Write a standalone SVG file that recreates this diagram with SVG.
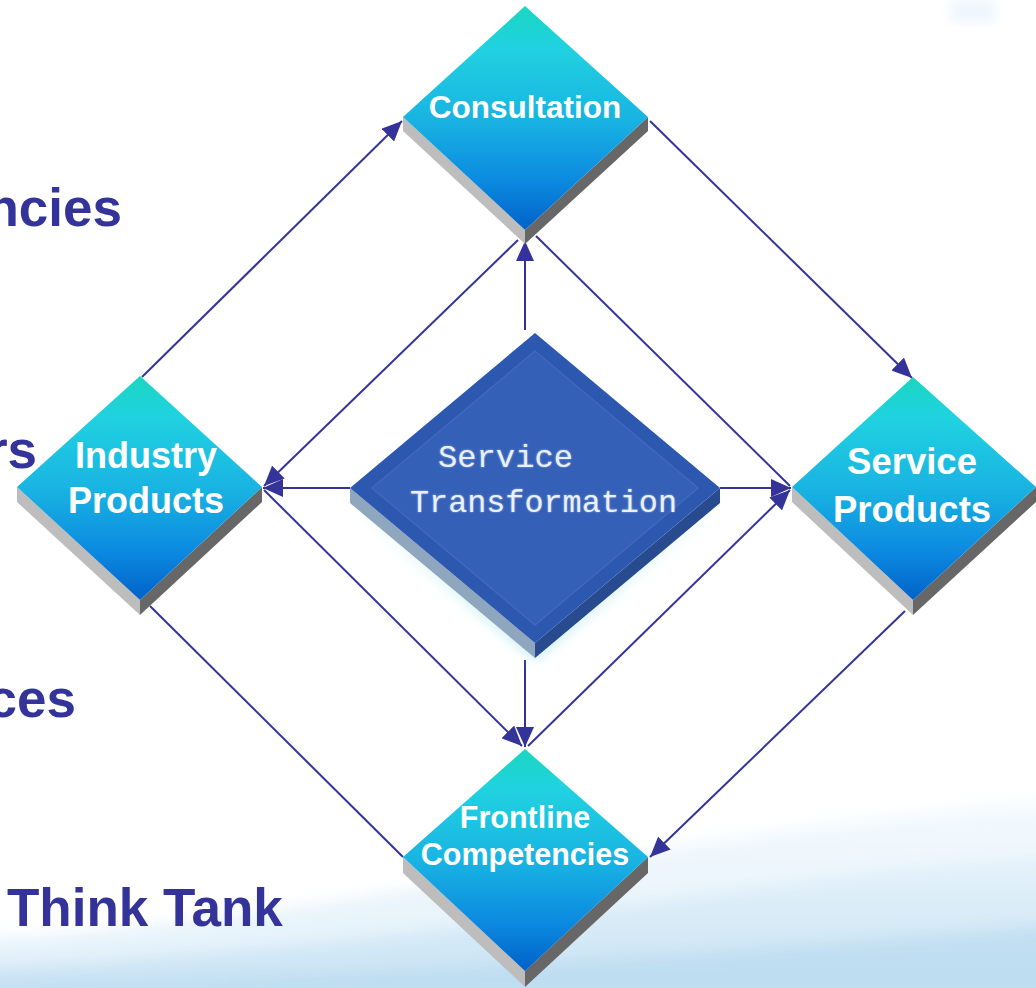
<svg xmlns="http://www.w3.org/2000/svg" width="1036" height="988" viewBox="0 0 1036 988">
  <defs>
    <linearGradient id="face" x1="0" y1="0" x2="0" y2="1">
      <stop offset="0" stop-color="#1ad6c0"/>
      <stop offset="0.18" stop-color="#20d2e0"/>
      <stop offset="0.5" stop-color="#19b4e2"/>
      <stop offset="0.78" stop-color="#0c8ae0"/>
      <stop offset="1" stop-color="#0062c8"/>
    </linearGradient>
    <linearGradient id="wave1" x1="0" y1="0" x2="0" y2="1">
      <stop offset="0" stop-color="#f2f9fe"/>
      <stop offset="1" stop-color="#dcedf8"/>
    </linearGradient>
    <linearGradient id="wave2" x1="0" y1="0" x2="0" y2="1">
      <stop offset="0" stop-color="#dfeff9"/>
      <stop offset="1" stop-color="#b5d9ef"/>
    </linearGradient>
    <filter id="glow" x="-20%" y="-20%" width="140%" height="140%">
      <feGaussianBlur stdDeviation="6"/>
    </filter>
    <filter id="blur" x="-10%" y="-50%" width="120%" height="200%">
      <feGaussianBlur stdDeviation="8"/>
    </filter>
    <filter id="soft" x="-20%" y="-20%" width="140%" height="140%">
      <feGaussianBlur stdDeviation="1.2"/>
    </filter>
    <marker id="arrow" markerUnits="userSpaceOnUse" markerWidth="22" markerHeight="18" refX="20" refY="9" orient="auto">
      <path d="M0,0 L20,9 L0,18 Z" fill="#333399"/>
    </marker>
    <style>
      .conn { stroke: #333399; stroke-width: 2; fill: none; }
      .arr { marker-end: url(#arrow); }
      .top { fill: url(#face); }
      .lside { fill: #bdbdbd; }
      .rside { fill: #676767; }
      .lbl { font-family: "Liberation Sans", Arial, sans-serif; font-weight: bold; fill: #ffffff; text-anchor: middle; }
      .side { font-family: "Liberation Sans", Arial, sans-serif; font-weight: bold; fill: #333399; font-size: 53px; }
      .mono { font-family: "Liberation Mono", "DejaVu Sans Mono", monospace; fill: #e9f1ff; font-size: 32px; }
    </style>
  </defs>

  <!-- background -->
  <rect x="0" y="0" width="1036" height="988" fill="#ffffff"/>
  <rect x="950" y="0" width="46" height="22" rx="4" fill="#eef6fd" filter="url(#glow)"/>
  <g id="background-wave" filter="url(#blur)">
    <path d="M-20,1000 L-20,940 C200,930 450,880 650,850 C800,828 920,810 1056,800 L1056,1000 Z" fill="url(#wave1)" opacity="0.85"/>
    <path d="M-20,1000 L-20,968 C250,955 500,925 700,895 C850,875 950,862 1056,856 L1056,1000 Z" fill="url(#wave2)" opacity="0.6"/>
    <path d="M-20,1000 L-20,985 C350,978 700,955 1056,925 L1056,1000 Z" fill="#b2d7ef" opacity="0.55"/>
  </g>

  <!-- side texts -->
  <g id="side-texts">
    <text class="side" x="122" y="226" text-anchor="end">ncies</text>
    <text class="side" x="37" y="468" text-anchor="end">rs</text>
    <text class="side" x="76" y="717" text-anchor="end">ces</text>
    <text class="side" x="7" y="926">Think Tank</text>
  </g>

  <!-- connectors -->
  <g id="connectors">
    <line class="conn arr" x1="142" y1="377" x2="402" y2="121"/>
    <line class="conn arr" x1="650" y1="121" x2="912" y2="378"/>
    <line class="conn arr" x1="905" y1="611" x2="650" y2="857"/>
    <line class="conn" x1="150" y1="606" x2="403" y2="857"/>
    <line class="conn arr" x1="525" y1="330" x2="525" y2="241"/>
    <line class="conn arr" x1="350" y1="488" x2="263" y2="488"/>
    <line class="conn arr" x1="720" y1="488" x2="791" y2="488"/>
    <line class="conn arr" x1="525" y1="660" x2="525" y2="747"/>
    <line class="conn arr" x1="518" y1="240" x2="264" y2="486"/>
    <line class="conn arr" x1="264" y1="490" x2="522" y2="746"/>
    <line class="conn arr" x1="528" y1="746" x2="790" y2="490"/>
    <line class="conn" x1="790" y1="486" x2="536" y2="236"/>
  </g>

  <!-- central node -->
  <g id="service-transformation">
    <polygon points="350,505 535,660 720,505 535,650" fill="#a8e6ee" filter="url(#glow)" opacity="0.8"/>
    <polygon points="350,488 535,643 535,658 350,503" fill="#8fa6bf"/>
    <polygon points="535,643 720,488 720,503 535,658" fill="#284a8f"/>
    <polygon points="535,333 720,488 535,643 350,488" fill="#2d58af"/>
    <polygon points="535,351 698,488 535,625 372,488" fill="#3560b7" stroke="#3f69bd" stroke-width="1.5"/>
    <g filter="url(#soft)" opacity="0.5">
      <text class="mono" x="438" y="467" textLength="135" lengthAdjust="spacingAndGlyphs" fill="#ffffff">Service</text>
      <text class="mono" x="410" y="512" textLength="267" lengthAdjust="spacingAndGlyphs" fill="#ffffff">Transformation</text>
    </g>
    <text class="mono" x="438" y="467" textLength="135" lengthAdjust="spacingAndGlyphs">Service</text>
    <text class="mono" x="410" y="512" textLength="267" lengthAdjust="spacingAndGlyphs">Transformation</text>
  </g>

  <!-- Consultation -->
  <g id="consultation">
    <polygon class="lside" points="403,117 525,230 525,244 403,131"/>
    <polygon class="rside" points="525,230 648,117 648,131 525,244"/>
    <polygon class="top" points="525,6 648,117 525,230 403,117"/>
    <text class="lbl" x="525" y="118" font-size="31.5">Consultation</text>
  </g>

  <!-- Industry Products -->
  <g id="industry-products">
    <polygon class="lside" points="17,487 140,600 140,615 17,502"/>
    <polygon class="rside" points="140,600 262,487 262,502 140,615"/>
    <polygon class="top" points="140,376 262,487 140,600 17,487"/>
    <text class="lbl" x="146" y="468" font-size="36">Industry</text>
    <text class="lbl" x="146" y="513" font-size="36">Products</text>
  </g>

  <!-- Service Products -->
  <g id="service-products">
    <polygon class="lside" points="792,487 913,600 913,615 792,502"/>
    <polygon class="rside" points="913,600 1036,487 1036,502 913,615"/>
    <polygon class="top" points="913,377 1036,487 913,600 792,487"/>
    <text class="lbl" x="912" y="474" font-size="36.5">Service</text>
    <text class="lbl" x="912" y="522" font-size="36.5">Products</text>
  </g>

  <!-- Frontline Competencies -->
  <g id="frontline-competencies">
    <polygon class="lside" points="403,857 525,971 525,987 403,873"/>
    <polygon class="rside" points="525,971 648,857 648,873 525,987"/>
    <polygon class="top" points="525,749 648,857 525,971 403,857"/>
    <text class="lbl" x="525" y="828" font-size="30.5">Frontline</text>
    <text class="lbl" x="525" y="865" font-size="30.5">Competencies</text>
  </g>
</svg>
